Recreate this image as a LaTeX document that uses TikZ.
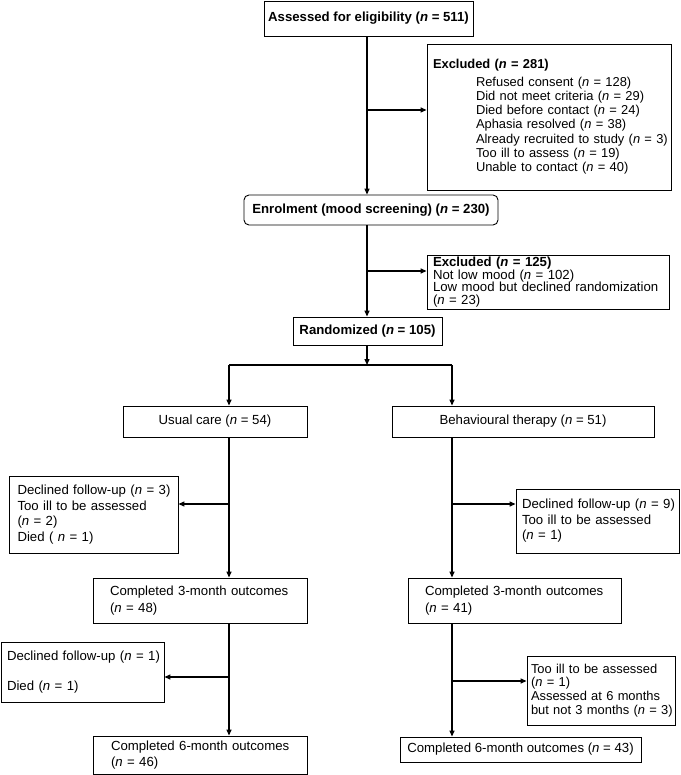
\documentclass[tikz,border=0pt]{standalone}
\usepackage{fontspec}
\setmainfont{Liberation Sans}
\usetikzlibrary{arrows.meta}

\begin{document}
\begin{tikzpicture}[x=1pt,y=-1pt,
  box/.style={draw, line width=.9pt, inner sep=0pt, align=left, font=\fontsize{13.2}{14}\selectfont},
  cbox/.style={box, align=center},
  link/.style={line width=1.3pt},
  arr/.style={link, -{Triangle[length=6pt,width=5pt]}}]
\useasboundingbox (0,0) rectangle (680,775);

\node (0) at (368.5,18.5) [cbox, minimum width=209pt, minimum height=35pt] {\textbf{Assessed for eligibility (\textit{n} = 511)}};
\node (1) at (549,117) [box, minimum width=244pt, minimum height=146pt, text width=232pt, font=\fontsize{12.9}{14.3}\selectfont] {\textbf{Excluded (\textit{n} = 281)}\\[3pt]
\hspace*{43pt}Refused consent (\textit{n} = 128)\\
\hspace*{43pt}Did not meet criteria (\textit{n} = 29)\\
\hspace*{43pt}Died before contact (\textit{n} = 24)\\
\hspace*{43pt}Aphasia resolved (\textit{n} = 38)\\
\hspace*{43pt}\mbox{Already recruited to study (\textit{n} = 3)}\\
\hspace*{43pt}Too ill to assess (\textit{n} = 19)\\
\hspace*{43pt}Unable to contact (\textit{n} = 40)};
\node (2) at (371,210) [cbox, rounded corners=5pt, minimum width=254pt, minimum height=30pt] {\textbf{Enrolment (mood screening) (\textit{n} = 230)}};
\node (3) at (548,282) [box, minimum width=242pt, minimum height=54pt, text width=230pt, font=\fontsize{13.2}{12.8}\selectfont] {\textbf{Excluded (\textit{n} = 125)}\\
Not low mood (\textit{n} = 102)\\
\mbox{Low mood but declined randomization}\\
(\textit{n} = 23)};
\node (4) at (367.5,331) [cbox, minimum width=149pt, minimum height=28pt] {\textbf{Randomized (\textit{n} = 105)}};
\node (5) at (215,421.5) [cbox, minimum width=184pt, minimum height=31pt] {Usual care (\textit{n} = 54)};
\node (6) at (523,421.5) [cbox, minimum width=262pt, minimum height=31pt] {Behavioural therapy (\textit{n} = 51)};
\node (7) at (93.5,514.5) [box, minimum width=169pt, minimum height=77pt, text width=152pt, font=\fontsize{13.2}{15.5}\selectfont] {\mbox{Declined follow-up (\textit{n} = 3)}\\
Too ill to be assessed\\
(\textit{n} = 2)\\
Died ( \textit{n} = 1)};
\node (8) at (200,600.5) [box, minimum width=214pt, minimum height=45pt, text width=180pt, font=\fontsize{13.2}{17}\selectfont] {\mbox{Completed 3-month outcomes}\\
(\textit{n} = 48)};
\node (9) at (82.5,672) [box, minimum width=163pt, minimum height=60pt, text width=151pt] {\mbox{Declined follow-up (\textit{n} = 1)}\\[16pt]
Died (\textit{n} = 1)};
\node (10) at (200,755) [box, minimum width=214pt, minimum height=38pt, text width=178pt, font=\fontsize{13.2}{16}\selectfont] {\mbox{Completed 6-month outcomes}\\
(\textit{n} = 46)};
\node (11) at (597.5,521) [box, minimum width=163pt, minimum height=64pt, text width=151pt, font=\fontsize{13.2}{15.5}\selectfont] {\mbox{Declined follow-up (\textit{n} = 9)}\\
Too ill to be assessed\\
(\textit{n} = 1)};
\node (12) at (514.5,600.5) [box, minimum width=213pt, minimum height=45pt, text width=179pt, font=\fontsize{13.2}{17}\selectfont] {\mbox{Completed 3-month outcomes}\\
(\textit{n} = 41)};
\node (13) at (601,690.5) [box, minimum width=148pt, minimum height=69pt, text width=140pt, font=\fontsize{12.9}{13.7}\selectfont] {Too ill to be assessed\\
(\textit{n} = 1)\\
Assessed at 6 months\\
\mbox{but not 3 months (\textit{n} = 3)}};
\node (14) at (520.5,749.5) [cbox, minimum width=241pt, minimum height=25pt] {Completed 6-month outcomes (\textit{n} = 43)};

\coordinate (a) at (367,110);
\coordinate (b) at (367,271);
\coordinate (c) at (367,365);
\coordinate (cl) at (229,365);
\coordinate (cr) at (452,365);
\coordinate (dl) at (229,504);
\coordinate (el) at (229,677);
\coordinate (dr) at (452,504);
\coordinate (er) at (452,681);

\draw[arr] (0.south -| a) to (2.north -| a);
\draw[arr] (a) to (a -| 1.west);
\draw[arr] (2.south -| b) to (4.north -| b);
\draw[arr] (b) to (b -| 3.west);
\draw[arr] (4.south -| c) to (c);
\draw[link] (cl) to (cr);
\draw[arr] (cl) to (cl |- 5.north);
\draw[arr] (cr) to (cr |- 6.north);

\draw[arr] (5.south -| cl) to (8.north -| cl);
\draw[arr] (dl) to (dl -| 7.east);
\draw[arr] (8.south -| cl) to (10.north -| cl);
\draw[arr] (el) to (el -| 9.east);

\draw[arr] (6.south -| cr) to (12.north -| cr);
\draw[arr] (dr) to (dr -| 11.west);
\draw[arr] (12.south -| cr) to (14.north -| cr);
\draw[arr] (er) to (er -| 13.west);
\end{tikzpicture}
\end{document}
